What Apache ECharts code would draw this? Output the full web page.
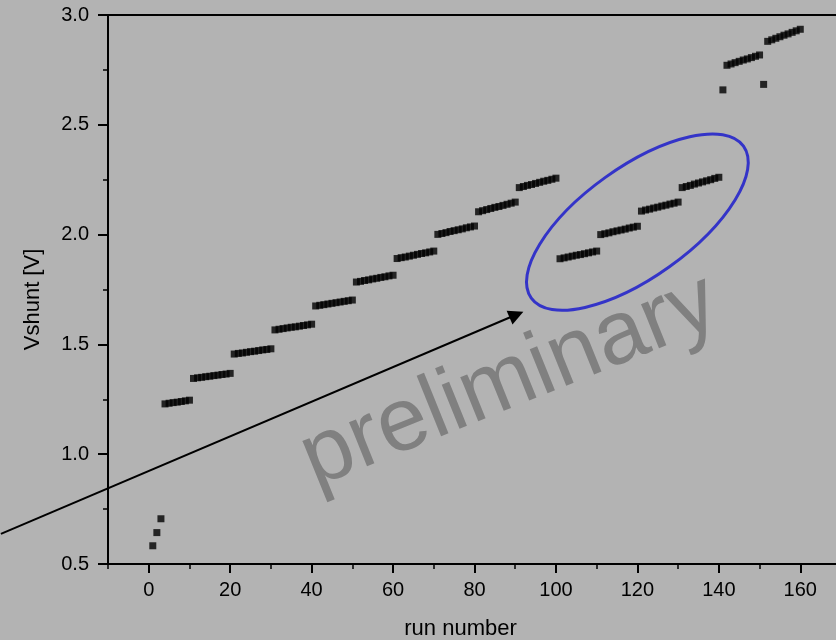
<!DOCTYPE html>
<html>
<head>
<meta charset="utf-8">
<script src="https://cdn.jsdelivr.net/npm/echarts@6/dist/echarts.min.js"></script>
<style>
html,body{margin:0;padding:0;background:#b3b3b3;}
#chart{width:836px;height:640px;}
</style>
</head>
<body>
<div id="chart"></div>
<script>
// Vshunt [V] per run (run number = position in list, starting at 1)
const vshunt = [
  0.583, 0.643, 0.706,
  1.229, 1.232, 1.235, 1.237, 1.240, 1.243, 1.246,
  1.345, 1.348, 1.350, 1.353, 1.355, 1.358, 1.360, 1.363, 1.365, 1.368,
  1.456, 1.459, 1.461, 1.464, 1.467, 1.469, 1.472, 1.475, 1.477, 1.480,
  1.566, 1.569, 1.572, 1.575, 1.578, 1.580, 1.583, 1.586, 1.589, 1.592,
  1.675, 1.678, 1.681, 1.684, 1.687, 1.690, 1.693, 1.696, 1.699, 1.702,
  1.784, 1.787, 1.791, 1.794, 1.798, 1.801, 1.805, 1.808, 1.812, 1.815,
  1.891, 1.895, 1.898, 1.902, 1.906, 1.910, 1.914, 1.917, 1.921, 1.925,
  2.001, 2.005, 2.009, 2.014, 2.018, 2.022, 2.026, 2.031, 2.035, 2.039,
  2.104, 2.109, 2.114, 2.119, 2.124, 2.128, 2.133, 2.138, 2.143, 2.148,
  2.214, 2.219, 2.224, 2.228, 2.233, 2.238, 2.243, 2.247, 2.252, 2.257,
  1.890, 1.894, 1.898, 1.902, 1.906, 1.909, 1.913, 1.917, 1.921, 1.925,
  2.000, 2.004, 2.008, 2.013, 2.017, 2.021, 2.025, 2.030, 2.034, 2.038,
  2.107, 2.112, 2.116, 2.121, 2.125, 2.130, 2.134, 2.139, 2.143, 2.148,
  2.214, 2.219, 2.224, 2.230, 2.235, 2.240, 2.245, 2.250, 2.256, 2.261,
  2.659,
  2.771, 2.777, 2.783, 2.789, 2.795, 2.800, 2.806, 2.812, 2.818,
  2.684,
  2.880, 2.887, 2.894, 2.901, 2.908, 2.914, 2.921, 2.928, 2.935
];
const xMajorTicks = [0, 20, 40, 60, 80, 100, 120, 140, 160];
const xName = 'run number';
const yName = 'Vshunt [V]';
const watermark = 'preliminary';

const FONT = "'Liberation Sans', Arial, sans-serif";
const chart = echarts.init(document.getElementById('chart'), null, {renderer: 'canvas'});

const points = vshunt.map((v, i) => [i + 1, v]);

const option = {
  backgroundColor: '#b3b3b3',
  animation: false,
  grid: {
    left: 108, top: 15, right: -5, bottom: 76,
    containLabel: false, outerBoundsMode: 'none',
    show: true, borderColor: '#000', borderWidth: 2, backgroundColor: 'transparent'
  },
  xAxis: [{
    type: 'value', min: -10, max: 170,
    position: 'bottom',
    name: xName, nameLocation: 'middle', nameGap: 54,
    nameTextStyle: {fontFamily: FONT, fontSize: 22, color: '#000', padding: [0, 28, 0, 0]},
    axisLine: {show: true, onZero: false, lineStyle: {color: '#000', width: 2}},
    axisTick: {show: true, inside: false, length: 9, customValues: xMajorTicks, lineStyle: {color: '#000', width: 2}},
    axisLabel: {show: true, customValues: xMajorTicks, margin: 16, fontFamily: FONT, fontSize: 20, color: '#000'},
    splitLine: {show: false}
  }, {
    type: 'value', min: -10, max: 170, interval: 10,
    position: 'bottom',
    axisLine: {show: false, onZero: false},
    axisTick: {show: true, inside: false, length: 5, lineStyle: {color: '#000', width: 1.5}},
    axisLabel: {show: false},
    splitLine: {show: false}
  }],
  yAxis: {
    type: 'value', min: 0.5, max: 3.0, interval: 0.5,
    name: yName, nameLocation: 'middle', nameGap: 64,
    nameTextStyle: {fontFamily: FONT, fontSize: 22, color: '#000', padding: [0, 0, 0, -20]},
    axisLine: {show: true, onZero: false, lineStyle: {color: '#000', width: 2}},
    axisTick: {show: true, inside: false, length: 10, lineStyle: {color: '#000', width: 2}},
    minorTick: {show: true, splitNumber: 2, length: 5, lineStyle: {color: '#000', width: 1.5}},
    axisLabel: {margin: 19, fontFamily: FONT, fontSize: 20, color: '#000',
      formatter: v => v.toFixed(1)},
    splitLine: {show: false}
  },
  series: [{
    type: 'scatter',
    xAxisIndex: 0,
    symbol: 'rect',
    symbolSize: 7,
    itemStyle: {color: '#000'},
    data: points
  }]
};
chart.setOption(option);

// annotations anchored in data coordinates
const arrowFrom = [-36.3, 0.637];
const arrowTo = [92.0, 1.649];
const ellipseCenter = [120.0, 2.057];
const watermarkCenter = [88.6, 1.33];

const p0 = chart.convertToPixel({gridIndex: 0}, arrowFrom);
const p1 = chart.convertToPixel({gridIndex: 0}, arrowTo);
const pc = chart.convertToPixel({gridIndex: 0}, ellipseCenter);
const pw = chart.convertToPixel({gridIndex: 0}, watermarkCenter);

const ang = Math.atan2(p1[1] - p0[1], p1[0] - p0[0]);
const headLen = 15, headHalf = 7.5;
const bx = p1[0] - headLen * Math.cos(ang), by = p1[1] - headLen * Math.sin(ang);
const nx = -Math.sin(ang), ny = Math.cos(ang);

chart.setOption({
  graphic: [
    {
      type: 'text', x: pw[0], y: pw[1], rotation: 22 * Math.PI / 180, z: 1,
      style: {text: watermark, fill: '#808080', font: "90px 'Liberation Sans', Arial, sans-serif",
        textAlign: 'center', textVerticalAlign: 'middle'}
    },
    {
      type: 'line', z: 10,
      shape: {x1: p0[0], y1: p0[1], x2: bx + 2 * Math.cos(ang), y2: by + 2 * Math.sin(ang)},
      style: {stroke: '#000', lineWidth: 2}
    },
    {
      type: 'polygon', z: 10,
      shape: {points: [[p1[0], p1[1]], [bx + nx * headHalf, by + ny * headHalf], [bx - nx * headHalf, by - ny * headHalf]]},
      style: {fill: '#000'}
    },
    {
      type: 'ellipse', z: 10,
      x: pc[0], y: pc[1], rotation: 35.6 * Math.PI / 180,
      shape: {cx: 0, cy: 0, rx: 130.5, ry: 55},
      style: {stroke: '#3434c8', lineWidth: 3, fill: 'none'}
    }
  ]
});
</script>
</body>
</html>
